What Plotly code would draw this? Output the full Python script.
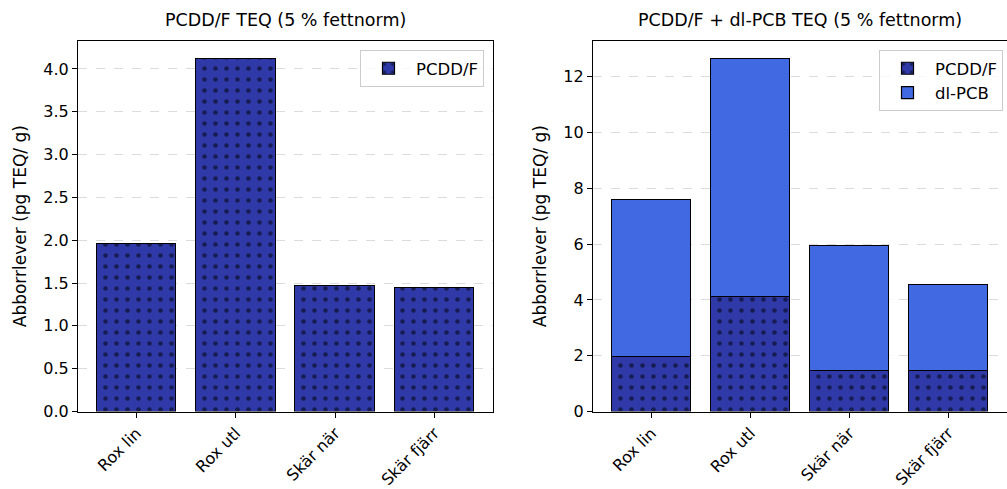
import plotly.graph_objects as go

categories = ["Rox lin", "Rox utl", "Skär när", "Skär fjärr"]
pcddf = [1.96, 4.12, 1.47, 1.44]
dlpcb = [5.64, 8.53, 4.48, 3.08]
title_left = "PCDD/F TEQ (5 % fettnorm)"
title_right = "PCDD/F + dl-PCB TEQ (5 % fettnorm)"
ylabel = "Abborrlever (pg TEQ/ g)"

W, H = 1007, 489
dark = "#2F3AA8"
royal = "#4169E1"
font = "DejaVu Sans"

def px(x):
    return x / W

def py(y):
    return 1 - y / H

fig = go.Figure()

pattern = dict(shape=".", fgcolor="black", bgcolor=dark, size=11, solidity=0.14, fillmode="overlay")

fig.add_trace(go.Bar(x=categories, y=pcddf, name="PCDD/F", width=0.8, showlegend=True,
                     legendgroup="a",
                     marker=dict(color=dark, line=dict(color="black", width=1.2), pattern=pattern),
                     xaxis="x", yaxis="y", legend="legend"))
fig.add_trace(go.Bar(x=categories, y=pcddf, name="PCDD/F", width=0.8, showlegend=True,
                     legendgroup="b",
                     marker=dict(color=dark, line=dict(color="black", width=1.2), pattern=pattern),
                     xaxis="x2", yaxis="y2", legend="legend2"))
fig.add_trace(go.Bar(x=categories, y=dlpcb, name="dl-PCB", width=0.8, showlegend=True,
                     legendgroup="b",
                     marker=dict(color=royal, line=dict(color="black", width=1.2)),
                     xaxis="x2", yaxis="y2", legend="legend2"))

ydom = [py(411.5), py(41)]
left_max = max(pcddf) * 1.05
right_max = max(p + d for p, d in zip(pcddf, dlpcb)) * 1.05

axis_common = dict(showline=True, linecolor="black", linewidth=1.2, mirror=True,
                   ticks="outside", ticklen=5, tickwidth=1.2, tickcolor="black",
                   automargin=False)
ytf = dict(family=font, size=16, color="black")
xtf = dict(family=font, size=16, color="black")

legend_common = dict(xanchor="right", yanchor="top", bordercolor="#cccccc", borderwidth=1,
                     bgcolor="rgba(255,255,255,0.8)", traceorder="normal", tracegroupgap=0,
                     itemwidth=45, font=dict(family=font, size=16.5, color="black"))

fig.update_layout(
    width=W, height=H,
    margin=dict(l=0, r=0, t=0, b=0),
    paper_bgcolor="white", plot_bgcolor="white",
    barmode="stack", bargap=0, showlegend=True,
    font=dict(family=font, color="black"),
    xaxis=dict(domain=[px(78), px(493)], anchor="y", range=[-0.59, 3.59], tickangle=-45,
               showgrid=False, tickfont=xtf, **axis_common),
    yaxis=dict(domain=ydom, anchor="x", range=[0, left_max], dtick=0.5, tickformat=".1f",
               showgrid=True, gridcolor="#dcdcdc", griddash="dash", gridwidth=0.8,
               zeroline=False, tickfont=ytf, **axis_common),
    xaxis2=dict(domain=[px(593), 1.0], anchor="y2", range=[-0.59, 3.59], tickangle=-45,
                showgrid=False, tickfont=xtf, **axis_common),
    yaxis2=dict(domain=ydom, anchor="x2", range=[0, right_max], dtick=2,
                showgrid=True, gridcolor="#dcdcdc", griddash="dash", gridwidth=0.8,
                zeroline=False, tickfont=ytf, **axis_common),
    legend=dict(x=px(484), y=py(50), **legend_common),
    legend2=dict(x=px(1003), y=py(50), **legend_common),
    annotations=[
        dict(text=title_left, x=px(285.5), y=py(32), xref="paper", yref="paper",
             xanchor="center", yanchor="bottom", showarrow=False,
             font=dict(family=font, size=17.5, color="black")),
        dict(text=title_right, x=px(800), y=py(32), xref="paper", yref="paper",
             xanchor="center", yanchor="bottom", showarrow=False,
             font=dict(family=font, size=17.5, color="black")),
        dict(text=ylabel, x=px(20), y=(ydom[0] + ydom[1]) / 2, xref="paper", yref="paper",
             xanchor="center", yanchor="middle", textangle=-90, showarrow=False,
             font=dict(family=font, size=17, color="black")),
        dict(text=ylabel, x=px(540), y=(ydom[0] + ydom[1]) / 2, xref="paper", yref="paper",
             xanchor="center", yanchor="middle", textangle=-90, showarrow=False,
             font=dict(family=font, size=17, color="black")),
    ],
)

fig.write_html("out.html", config={"displayModeBar": False},
               post_script="document.body.style.margin='0';")
